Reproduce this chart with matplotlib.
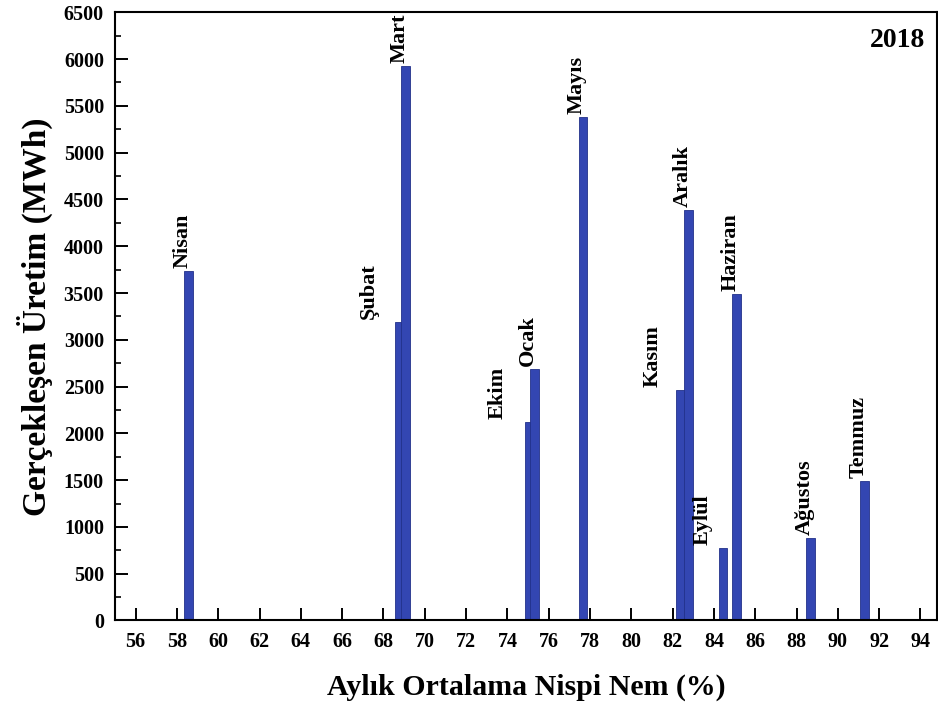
import matplotlib
matplotlib.use('Agg')
import matplotlib.pyplot as plt
from matplotlib.ticker import MultipleLocator

# data
months = ['Nisan', 'Şubat', 'Mart', 'Ekim', 'Ocak', 'Mayıs', 'Kasım',
          'Aralık', 'Eylül', 'Haziran', 'Ağustos', 'Temmuz']
humidity = [58.55, 68.75, 69.07, 75.08, 75.30, 77.66, 82.38,
            82.76, 84.44, 85.09, 88.69, 91.28]
production = [3735, 3190, 5925, 2120, 2690, 5380, 2460,
              4390, 775, 3485, 880, 1488]
# months whose label sits left of the bar, with horizontal shift in px
left_shift = {'Şubat': -30, 'Ekim': -32, 'Kasım': -28, 'Eylül': -20}

plt.rcParams['font.family'] = ['Liberation Serif', 'DejaVu Serif']
plt.rcParams['font.weight'] = 'bold'

fig = plt.figure(figsize=(9.38, 7.11), dpi=100)
ax = fig.add_axes([0.1226, 0.1273, 0.8763, 0.8554])

bar_color = '#3346b2'
ax.bar(humidity, production, width=0.42, color=bar_color,
       edgecolor='#22318a', linewidth=0.6, zorder=2)

for m, x, y in zip(months, humidity, production):
    off = (left_shift.get(m, -6), 3)
    ax.annotate(m, xy=(x, y), xytext=off, textcoords='offset pixels',
                rotation=90, ha='center', va='bottom',
                fontsize=16, fontweight='bold')

ax.set_xlim(55, 94.8)
ax.set_ylim(0, 6500)
ax.xaxis.set_major_locator(MultipleLocator(2))
ax.yaxis.set_major_locator(MultipleLocator(500))
ax.yaxis.set_minor_locator(MultipleLocator(250))
ax.tick_params(axis='both', which='major', direction='in', length=9,
               width=1.4, labelsize=14.5, pad=8)
ax.tick_params(axis='y', which='minor', direction='in', length=4.5, width=1.2)
ax.tick_params(top=False, right=False)
for lab in ax.get_xticklabels() + ax.get_yticklabels():
    lab.set_fontweight('bold')
for s in ax.spines.values():
    s.set_linewidth(1.5)

ax.set_xlabel('Aylık Ortalama Nispi Nem (%)', fontsize=21.5,
              fontweight='bold', labelpad=16)
ax.set_ylabel('Gerçekleşen Üretim (MWh)', fontsize=24,
              fontweight='bold', labelpad=8)

ax.text(0.985, 0.975, '2018', transform=ax.transAxes, ha='right', va='top',
        fontsize=20, fontweight='bold')

fig.savefig('out.png', dpi=100)
